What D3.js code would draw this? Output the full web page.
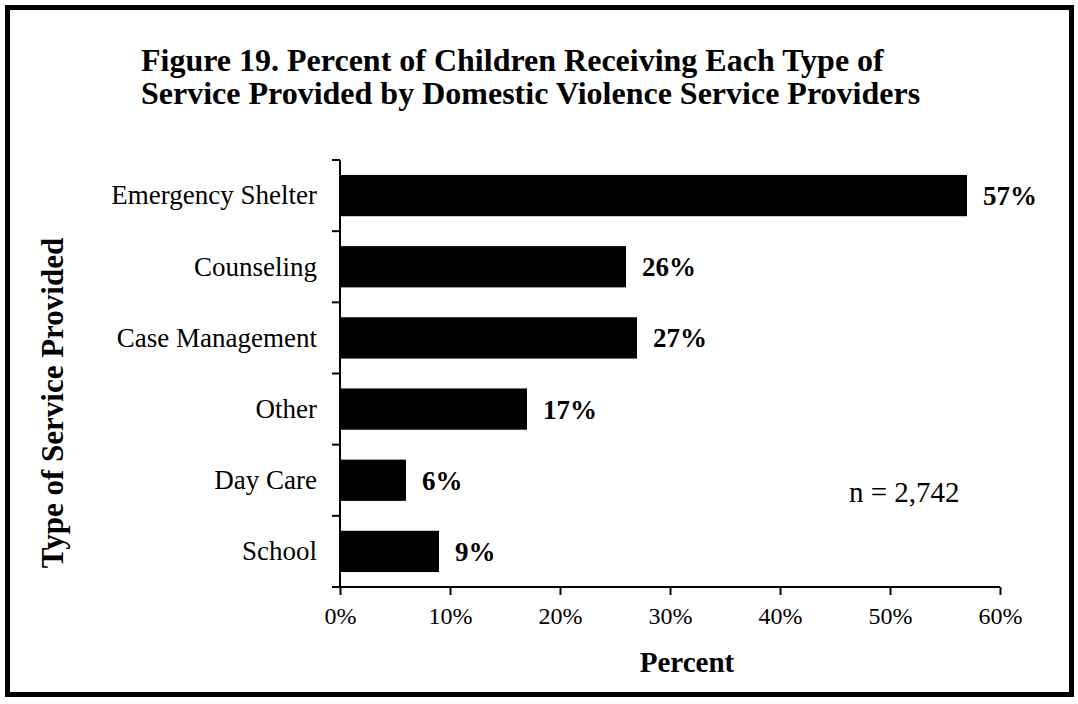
<!DOCTYPE html>
<html>
<head>
<meta charset="utf-8">
<script src="https://cdn.jsdelivr.net/npm/d3@7"></script>
<style>
  body { margin: 0; background: #fff; }
  text { font-family: "Liberation Serif", "Times New Roman", serif; fill: #000; }
</style>
</head>
<body>
<svg id="chart" width="1078" height="704"></svg>
<script>
const titleLines = [
  "Figure 19. Percent of Children Receiving Each Type of",
  "Service Provided by Domestic Violence Service Providers"
];
const categories = ["Emergency Shelter", "Counseling", "Case Management", "Other", "Day Care", "School"];
const values = [57, 26, 27, 17, 6, 9];
const xTicks = [0, 10, 20, 30, 40, 50, 60];
const xTitle = "Percent";
const yTitle = "Type of Service Provided";
const note = "n = 2,742";

const svg = d3.select("#chart");

// frame
svg.append("rect").attr("x", 7.5).attr("y", 7.5).attr("width", 1064).attr("height", 687)
  .attr("fill", "#fff").attr("stroke", "#000").attr("stroke-width", 5);

// title
const title = svg.append("text").attr("x", 141).attr("y", 71)
  .style("font-size", "32px").style("font-weight", "bold");
titleLines.forEach((l, i) => title.append("tspan").attr("x", 141).attr("y", 71 + i * 33).text(l));

const x = d3.scaleLinear().domain([0, 60]).range([340, 1000]);
const y = d3.scaleBand().domain(categories).range([160, 587]).paddingInner(0.42).paddingOuter(0.21);

// bars
svg.append("g").selectAll("rect").data(values).join("rect")
  .attr("x", x(0))
  .attr("y", (d, i) => y(categories[i]))
  .attr("width", d => x(d) - x(0))
  .attr("height", y.bandwidth())
  .attr("fill", "#000");

// value labels
svg.append("g").selectAll("text").data(values).join("text")
  .attr("x", d => x(d) + 16)
  .attr("y", (d, i) => y(categories[i]) + y.bandwidth() / 2)
  .attr("dy", "0.35em")
  .style("font-size", "27px").style("font-weight", "bold")
  .text(d => d + "%");

// x axis
const xAxis = d3.axisBottom(x).tickValues(xTicks).tickFormat(d => d + "%").tickSize(8).tickSizeOuter(0);
const gx = svg.append("g").attr("transform", "translate(0,587)").call(xAxis);
gx.select(".domain").attr("stroke-width", 2).attr("d", "M332,0H1000");
gx.selectAll(".tick line").attr("stroke-width", 2);
gx.selectAll(".tick text").attr("y", 20).attr("dy", "0.71em")
  .style("font-size", "24px").style("font-family", "Liberation Serif, serif");

// y axis (ticks at category boundaries)
const step = y.step();
const boundaries = d3.range(categories.length).map(i => y.range()[0] + i * step);
const gy = svg.append("g");
gy.append("line").attr("x1", 340).attr("x2", 340).attr("y1", 160).attr("y2", 587)
  .attr("stroke", "#000").attr("stroke-width", 2);
gy.selectAll("line.tk").data(boundaries).join("line").attr("class", "tk")
  .attr("x1", 332).attr("x2", 340).attr("y1", d => d).attr("y2", d => d)
  .attr("stroke", "#000").attr("stroke-width", 2);
gy.selectAll("text").data(categories).join("text")
  .attr("x", 317)
  .attr("y", d => y(d) + y.bandwidth() / 2)
  .attr("dy", "0.33em")
  .attr("text-anchor", "end")
  .style("font-size", "27px")
  .text(d => d);

// axis titles
svg.append("text").attr("x", 687).attr("y", 672).attr("text-anchor", "middle")
  .style("font-size", "29px").style("font-weight", "bold").text(xTitle);
svg.append("text").attr("transform", "translate(63,403) rotate(-90)").attr("text-anchor", "middle")
  .style("font-size", "31px").style("font-weight", "bold").text(yTitle);

// note
svg.append("text").attr("x", 849).attr("y", 502)
  .style("font-size", "29px").text(note);
</script>
</body>
</html>
